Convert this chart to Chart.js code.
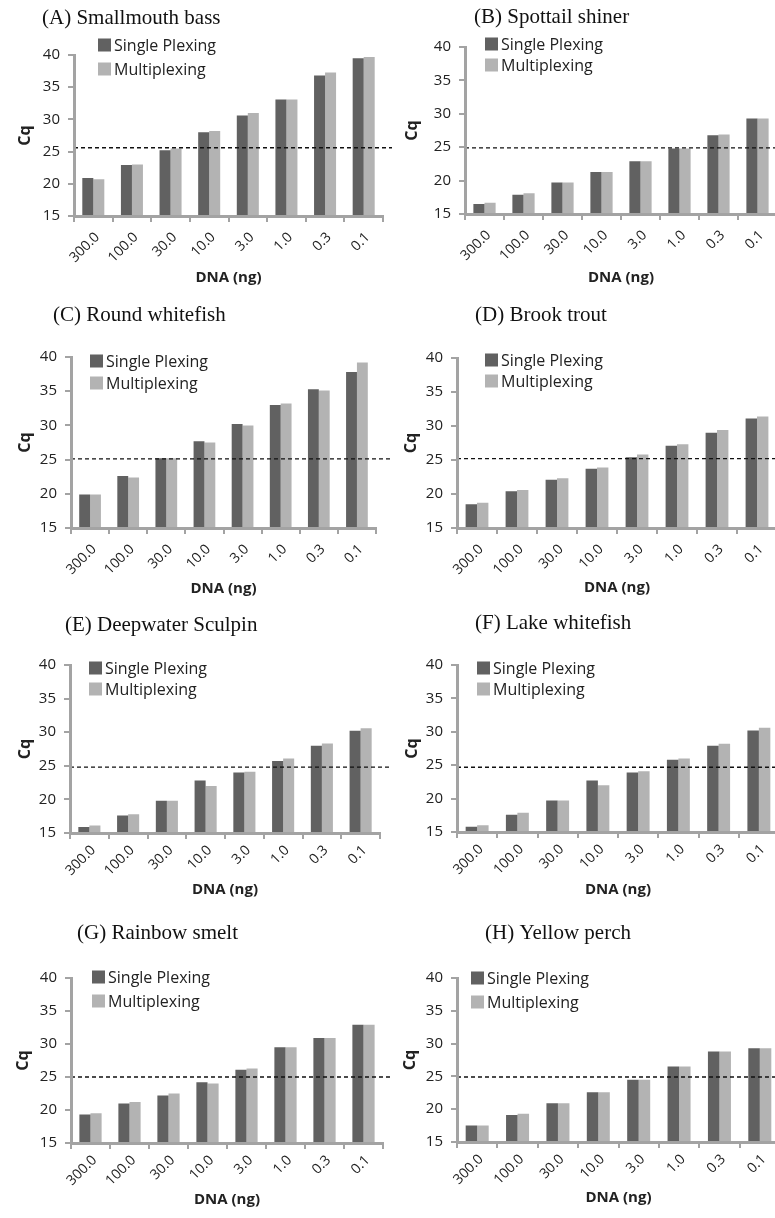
<!DOCTYPE html>
<html>
<head>
<meta charset="utf-8">
<script src="https://cdn.jsdelivr.net/npm/chart.js@4.4.1/dist/chart.umd.min.js"></script>
<style>
  html, body { margin: 0; padding: 0; background: #fff; overflow: hidden; width: 775px; height: 1218px; }
  canvas { position: absolute; }
</style>
</head>
<body>
<div id="panels"></div>
<script>
// DNA amounts on the x axis
const doseLabels = ['300.0', '100.0', '30.0', '10.0', '3.0', '1.0', '0.3', '0.1'];
const seriesNames = ['Single Plexing', 'Multiplexing'];
const panelTitles = [
    '(A) Smallmouth bass', '(B) Spottail shiner',
    '(C) Round whitefish', '(D) Brook trout',
    '(E) Deepwater Sculpin', '(F) Lake whitefish',
    '(G) Rainbow smelt', '(H) Yellow perch'
];

// Cq values
const singleA = [20.9, 22.9, 25.2, 28.0, 30.6, 33.1, 36.8, 39.5];
const multiA  = [20.7, 23.0, 25.5, 28.2, 31.0, 33.1, 37.3, 39.7];
const singleB = [16.5, 17.9, 19.7, 21.3, 22.9, 24.8, 26.8, 29.3];
const multiB  = [16.7, 18.1, 19.7, 21.3, 22.9, 24.8, 26.9, 29.3];
const singleC = [19.9, 22.6, 25.2, 27.7, 30.2, 33.0, 35.3, 37.8];
const multiC  = [19.9, 22.4, 25.2, 27.5, 30.0, 33.2, 35.1, 39.2];
const singleD = [18.5, 20.4, 22.1, 23.7, 25.4, 27.1, 29.0, 31.1];
const multiD  = [18.7, 20.6, 22.3, 23.9, 25.8, 27.3, 29.4, 31.4];
const singleE = [15.9, 17.6, 19.8, 22.8, 24.0, 25.7, 28.0, 30.2];
const multiE  = [16.1, 17.8, 19.8, 22.0, 24.1, 26.1, 28.3, 30.6];
const singleF = [15.8, 17.6, 19.7, 22.7, 23.9, 25.8, 27.9, 30.2];
const multiF  = [16.0, 17.9, 19.7, 22.0, 24.1, 26.0, 28.2, 30.6];
const singleG = [19.3, 21.0, 22.2, 24.2, 26.1, 29.5, 30.9, 32.9];
const multiG  = [19.5, 21.2, 22.5, 24.0, 26.3, 29.5, 30.9, 32.9];
const singleH = [17.5, 19.1, 20.9, 22.6, 24.5, 26.5, 28.8, 29.3];
const multiH  = [17.5, 19.3, 20.9, 22.6, 24.5, 26.5, 28.8, 29.3];

// dashed threshold line of each panel
const cutoffs = [25.6, 24.9, 25.1, 25.2, 24.8, 24.7, 25.0, 24.9];

const yMin = 15, yMax = 40, yStep = 5;

const singleSeries = [singleA, singleB, singleC, singleD, singleE, singleF, singleG, singleH];
const multiSeries = [multiA, multiB, multiC, multiD, multiE, multiF, multiG, multiH];

// page placement of every panel (page pixels)
const layouts = [
    { left: 0,   top: 0,   width: 392, height: 298, y40: 55,  y15: 216,  dnaY: 278,  tickPad: 7, cqX: 25,  axisX: 74,  rightX: 383, titleX: 42,  titleY: 18,  legX: 98,  legY: 45,  legGap: 24 },
    { left: 385, top: 0,   width: 400, height: 298, y40: 47,  y15: 214,  dnaY: 278,  tickPad: 7, cqX: 412, axisX: 465, rightX: 777, titleX: 474, titleY: 17,  legX: 485, legY: 44,  legGap: 21 },
    { left: 0,   top: 298, width: 392, height: 304, y40: 357, y15: 528,  dnaY: 589,  tickPad: 7, cqX: 25,  axisX: 71,  rightX: 376, titleX: 53,  titleY: 315, legX: 90,  legY: 361, legGap: 22 },
    { left: 385, top: 298, width: 400, height: 304, y40: 358, y15: 528,  dnaY: 588,  tickPad: 7, cqX: 411, axisX: 457, rightX: 777, titleX: 475, titleY: 315, legX: 485, legY: 360, legGap: 21 },
    { left: 0,   top: 602, width: 392, height: 303, y40: 665, y15: 833,  dnaY: 890,  tickPad: 3, cqX: 25,  axisX: 70,  rightX: 380, titleX: 65,  titleY: 625, legX: 89,  legY: 668, legGap: 21 },
    { left: 385, top: 602, width: 400, height: 303, y40: 665, y15: 832,  dnaY: 890,  tickPad: 3, cqX: 412, axisX: 457, rightX: 779, titleX: 475, titleY: 623, legX: 477, legY: 668, legGap: 21 },
    { left: 0,   top: 905, width: 392, height: 313, y40: 978, y15: 1143, dnaY: 1200, tickPad: 3, cqX: 23,  axisX: 71,  rightX: 383, titleX: 77,  titleY: 933, legX: 92,  legY: 977, legGap: 24 },
    { left: 385, top: 905, width: 400, height: 313, y40: 978, y15: 1142, dnaY: 1198, tickPad: 3, cqX: 410, axisX: 457, rightX: 780, titleX: 485, titleY: 933, legX: 471, legY: 978, legGap: 24 }
];

const darkGray = '#616161';
const lightGray = '#b3b3b3';
const axisGray = '#a3a3a3';
const sansFont = '"Open Sans", "Noto Sans", sans-serif';

// title, legend and dashed cutoff line
const panelDecor = {
    id: 'panelDecor',
    afterDatasetsDraw(chart, args, opts) {
        const ctx = chart.ctx;
        const area = chart.chartArea;
        const yy = chart.scales.y.getPixelForValue(opts.cutoff);
        ctx.save();
        ctx.strokeStyle = '#111';
        ctx.lineWidth = 1.4;
        ctx.setLineDash([4, 3]);
        ctx.beginPath();
        ctx.moveTo(area.left, yy);
        ctx.lineTo(chart.width, yy);
        ctx.stroke();
        ctx.restore();
    },
    afterDraw(chart, args, opts) {
        const ctx = chart.ctx;
        ctx.save();
        ctx.fillStyle = '#111';
        ctx.font = '21px "Liberation Serif", "Times New Roman", serif';
        ctx.textBaseline = 'middle';
        ctx.textAlign = 'left';
        ctx.fillText(opts.title, opts.titleX, opts.titleY);

        ctx.font = '16px ' + sansFont;
        chart.data.datasets.forEach((ds, i) => {
            const y = opts.legY + i * opts.legGap;
            ctx.fillStyle = ds.backgroundColor;
            ctx.fillRect(opts.legX, y - 6.5, 13, 13);
            ctx.fillStyle = '#222';
            ctx.fillText(ds.label, opts.legX + 16, y + 1);
        });
        ctx.restore();
    }
};

function buildPanel(i) {
    const L = layouts[i];
    const canvas = document.createElement('canvas');
    canvas.width = L.width;
    canvas.height = L.height;
    canvas.style.left = L.left + 'px';
    canvas.style.top = L.top + 'px';
    document.getElementById('panels').appendChild(canvas);

    const padLeft = L.cqX - L.left - 9.6;
    const yWidth = L.axisX - L.left - padLeft;
    const xHeight = L.dnaY + 9 - L.y15;
    const padBottom = L.height - (L.y15 - L.top) - xHeight;

    return new Chart(canvas.getContext('2d'), {
        type: 'bar',
        data: {
            labels: doseLabels,
            datasets: [
                { label: seriesNames[0], data: singleSeries[i], backgroundColor: darkGray, borderWidth: 0 },
                { label: seriesNames[1], data: multiSeries[i], backgroundColor: lightGray, borderWidth: 0 }
            ]
        },
        options: {
            responsive: false,
            animation: false,
            events: [],
            datasets: {
                bar: { barPercentage: 1, categoryPercentage: 0.57 }
            },
            layout: {
                padding: {
                    top: L.y40 - L.top,
                    bottom: padBottom,
                    left: padLeft,
                    right: L.left + L.width - L.rightX
                }
            },
            plugins: {
                legend: { display: false },
                tooltip: { enabled: false },
                panelDecor: {
                    cutoff: cutoffs[i],
                    title: panelTitles[i],
                    titleX: L.titleX - L.left,
                    titleY: L.titleY - L.top,
                    legX: L.legX - L.left,
                    legY: L.legY - L.top,
                    legGap: L.legGap
                }
            },
            scales: {
                x: {
                    afterFit(scale) { scale.height = xHeight; },
                    grid: {
                        display: true,
                        drawOnChartArea: false,
                        drawTicks: true,
                        tickLength: 6,
                        color: axisGray,
                        lineWidth: 2
                    },
                    border: { display: true, color: axisGray, width: 3, z: 1 },
                    ticks: {
                        minRotation: 45,
                        maxRotation: 45,
                        autoSkip: false,
                        padding: L.tickPad,
                        labelOffset: 4,
                        color: '#222',
                        font: { family: sansFont, size: 14 }
                    },
                    title: {
                        display: true,
                        text: 'DNA (ng)',
                        color: '#222',
                        padding: 0,
                        font: { family: sansFont, size: 15, weight: 'bold' }
                    }
                },
                y: {
                    min: yMin,
                    max: yMax,
                    afterFit(scale) { scale.width = yWidth; },
                    grid: {
                        display: true,
                        drawOnChartArea: false,
                        drawTicks: true,
                        tickLength: 6,
                        color: axisGray,
                        lineWidth: 2
                    },
                    border: { display: true, color: axisGray, width: 3, z: 1 },
                    ticks: {
                        stepSize: yStep,
                        padding: 8,
                        color: '#222',
                        font: { family: sansFont, size: 15 }
                    },
                    title: {
                        display: true,
                        text: 'Cq',
                        color: '#222',
                        padding: 0,
                        font: { family: sansFont, size: 16, weight: 'bold' }
                    }
                }
            }
        },
        plugins: [panelDecor]
    });
}

for (let i = 0; i < layouts.length; i++) {
    buildPanel(i);
}
</script>
</body>
</html>
